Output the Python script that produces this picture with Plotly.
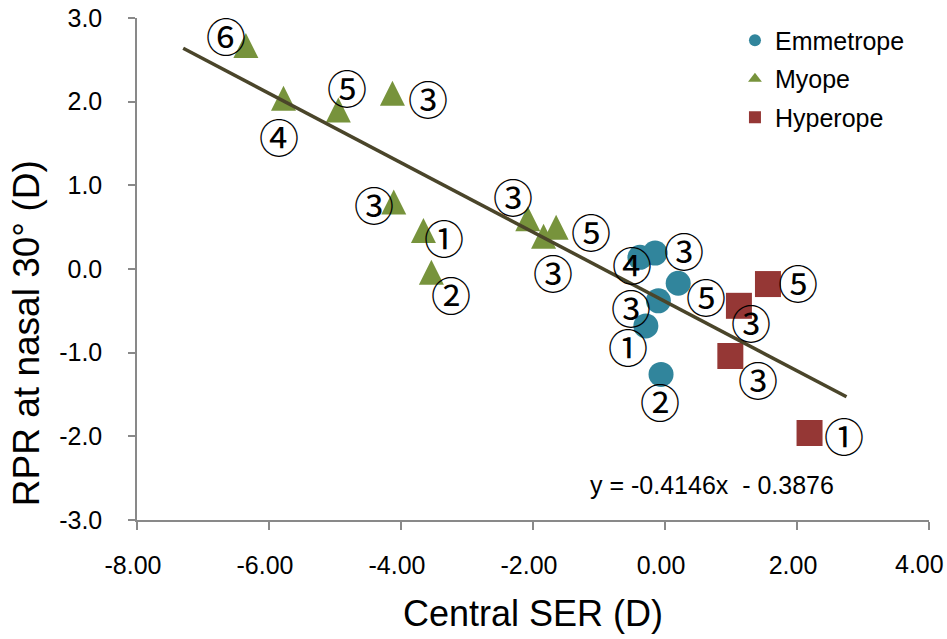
import plotly.graph_objects as go

# Central SER (D) and RPR at nasal 30 deg (D) per refractive group
myope_ser = [-6.35, -5.78, -4.95, -4.13, -4.11, -3.66, -3.54, -2.08, -1.84, -1.65]
myope_rpr = [2.67, 2.04, 1.90, 2.10, 0.80, 0.46, -0.04, 0.60, 0.39, 0.50]
myope_tag = ["⑥", "④", "⑤", "③", "③", "①", "②", "③", "③", "⑤"]

emm_ser = [-0.38, -0.15, 0.20, -0.10, -0.29, -0.06]
emm_rpr = [0.14, 0.19, -0.17, -0.38, -0.68, -1.26]
emm_tag = ["④", "③", "⑤", "③", "①", "②"]

hyp_ser = [1.56, 1.12, 0.99, 2.19]
hyp_rpr = [-0.18, -0.44, -1.04, -1.96]
hyp_tag = ["⑤", "③", "③", "①"]

# linear fit reported on the chart
slope = -0.4146
intercept = -0.3876
trend_ser = [-7.3, 2.75]

x_ticks = [-8, -6, -4, -2, 0, 2, 4]
y_ticks = [-3, -2, -1, 0, 1, 2, 3]

# pixel offsets of the circled tags relative to their markers (dx right, dy up)
myope_off = [(-20, 11), (-5, -38), (9, 23), (36, -5), (-20, -2), (21, -6), (20, -22), (-15, 23), (9, -36), (35, -4)]
emm_off = [(-8, -7), (29, 3), (28, -13), (-27, -6), (-18, -20), (-1, -27)]
hyp_off = [(30, 2), (12, -16), (28, -23), (34, -2)]

GREEN = "#77933C"
BLUE = "#31859C"
RED = "#953735"
AXIS = "#898989"
FONT = "Liberation Sans, Arial, sans-serif"
TRI = 25  # triangle width/height in px

# the last x label is right-aligned at the page edge instead of centred on its tick
x_text = [f"{v:.2f}" for v in x_ticks]
x_last = x_text[-1]
x_text[-1] = ""

fig = go.Figure()

fig.add_trace(go.Scatter(
    x=emm_ser, y=emm_rpr, mode="markers", name="Emmetrope", legendrank=1,
    legendgroup="emm",
    marker=dict(symbol="circle", size=25, color=BLUE, line=dict(width=0)),
))
# upright triangle centred on the point: flipped arrow pushed back by half its height
fig.add_trace(go.Scatter(
    x=myope_ser, y=myope_rpr, mode="markers", name="Myope", showlegend=False,
    legendgroup="myo",
    marker=dict(symbol="arrow-down", angle=180, standoff=TRI / 2, size=TRI,
                color=GREEN, line=dict(width=0)),
))
fig.add_trace(go.Scatter(
    x=[None], y=[None], mode="markers", name="Myope", legendrank=2,
    legendgroup="myo",
    marker=dict(symbol="triangle-up", size=14, color=GREEN, line=dict(width=0)),
))
fig.add_trace(go.Scatter(
    x=hyp_ser, y=hyp_rpr, mode="markers", name="Hyperope", legendrank=3,
    legendgroup="hyp",
    marker=dict(symbol="square", size=26, color=RED, line=dict(width=0)),
))

trend_rpr = [slope * v + intercept for v in trend_ser]
fig.add_trace(go.Scatter(
    x=trend_ser, y=trend_rpr, mode="lines", showlegend=False,
    line=dict(color="#4A452A", width=3.5), hoverinfo="skip",
))

annotations = []
for xs, ys, tags, offs in [(myope_ser, myope_rpr, myope_tag, myope_off),
                           (emm_ser, emm_rpr, emm_tag, emm_off),
                           (hyp_ser, hyp_rpr, hyp_tag, hyp_off)]:
    for xv, yv, t, (dx, dy) in zip(xs, ys, tags, offs):
        annotations.append(dict(
            x=xv, y=yv, xref="x", yref="y", text=t, showarrow=False,
            xanchor="center", yanchor="middle",
            xshift=dx, yshift=dy,
            font=dict(family="Noto Sans CJK JP", size=40, color="#000000"),
        ))

annotations.append(dict(
    x=x_ticks[-1], y=-0.0876, xref="x", yref="paper", showarrow=False,
    xanchor="right", yanchor="middle", xshift=17, text=x_last,
    font=dict(family=FONT, size=25, color="#000000"),
))
annotations.append(dict(
    x=0.726, y=0.0697, xref="paper", yref="paper", showarrow=False,
    xanchor="center", yanchor="middle",
    text="y = -0.4146x \u00a0- 0.3876",
    font=dict(family=FONT, size=25, color="#000000"),
))
annotations.append(dict(
    x=0.5, y=-0.187, xref="paper", yref="paper", showarrow=False,
    xanchor="center", yanchor="middle",
    text="Central SER (D)",
    font=dict(family=FONT, size=36, color="#000000"),
))
annotations.append(dict(
    x=-0.14, y=0.3725, xref="paper", yref="paper", showarrow=False,
    xanchor="center", yanchor="middle",
    text="RPR at nasal 30° (D)", textangle=-90,
    font=dict(family=FONT, size=37, color="#000000"),
))

fig.update_layout(
    width=947, height=639,
    margin=dict(l=137, r=18, t=18, b=119),
    paper_bgcolor="white", plot_bgcolor="white",
    font=dict(family=FONT, color="#000000"),
    showlegend=True,
    legend=dict(
        x=0.755, y=1.001, xanchor="left", yanchor="top",
        font=dict(family=FONT, size=25, color="#000000"),
        itemsizing="constant", tracegroupgap=3,
        bgcolor="rgba(0,0,0,0)",
    ),
    annotations=annotations,
)

fig.update_xaxes(
    range=[-8, 4], tickvals=x_ticks, ticktext=x_text,
    showgrid=False, zeroline=False, automargin=False,
    showline=True, linecolor=AXIS, linewidth=1.5,
    ticks="outside", ticklen=8, tickcolor=AXIS, tickwidth=1.5,
    tickfont=dict(family=FONT, size=25, color="#000000"),
    ticklabelstandoff=14, ticklabelshift=-4,
)
fig.update_yaxes(
    range=[-3, 3], tickvals=y_ticks, ticktext=[f"{v:.1f}" for v in y_ticks],
    showgrid=False, zeroline=False, automargin=False,
    showline=True, linecolor=AXIS, linewidth=1.5,
    ticks="outside", ticklen=7, tickcolor=AXIS, tickwidth=1.5,
    tickfont=dict(family=FONT, size=25, color="#000000"),
    ticklabelstandoff=21,
)

fig.write_html("out.html")
